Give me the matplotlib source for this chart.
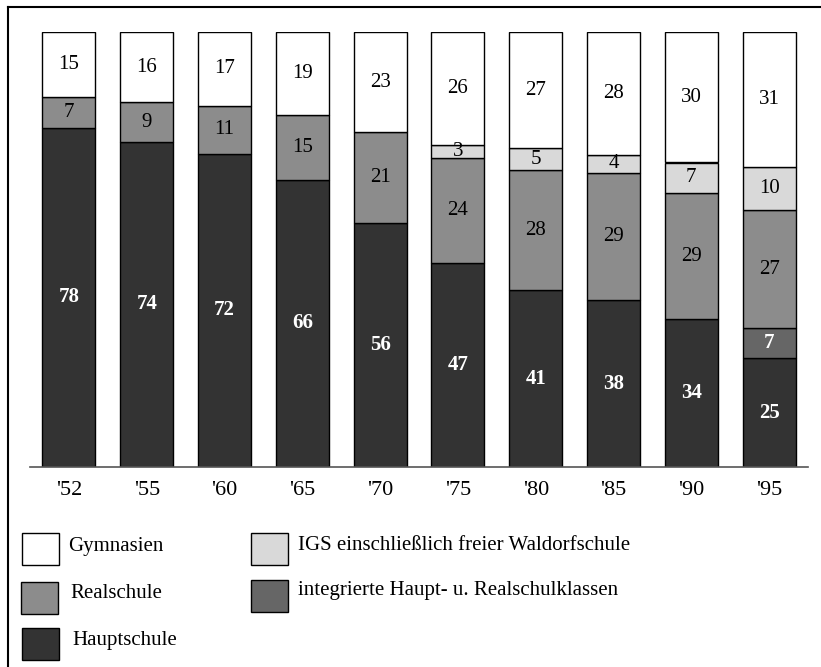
import matplotlib.pyplot as plt
from matplotlib.patches import Rectangle
import numpy as np

plt.rcParams['font.family'] = ['Liberation Serif', 'DejaVu Serif']

years = ["'52", "'55", "'60", "'65", "'70", "'75", "'80", "'85", "'90", "'95"]
hauptschule = [78, 74, 72, 66, 56, 47, 41, 38, 34, 25]
integrierte = [0, 0, 0, 0, 0, 0, 0, 0, 0, 7]
realschule = [7, 9, 11, 15, 21, 24, 28, 29, 29, 27]
igs = [0, 0, 0, 0, 0, 3, 5, 4, 7, 10]
gymnasien = [15, 16, 17, 19, 23, 26, 27, 28, 30, 31]

series = [
    ("Hauptschule", hauptschule, "#333333", "white", "bold"),
    ("integrierte Haupt- u. Realschulklassen", integrierte, "#666666", "white", "bold"),
    ("Realschule", realschule, "#8c8c8c", "black", "normal"),
    ("IGS einschließlich freier Waldorfschule", igs, "#d9d9d9", "black", "normal"),
    ("Gymnasien", gymnasien, "white", "black", "normal"),
]

# rounded shares don't always add to 100, bars are drawn as full 100 %
totals = np.sum([np.array(s[1], dtype=float) for s in series], axis=0)

W, H = 821, 667
fig = plt.figure(figsize=(W / 100, H / 100), dpi=100)

# main chart area (pixel layout)
left, right, base, top = 30, 808, 467, 32
ax = fig.add_axes([left / W, (H - base) / H, (right - left) / W, (base - top) / H])

x = np.arange(len(years))
bottom = np.zeros(len(years))
for name, vals, color, tcolor, weight in series:
    raw = np.array(vals, dtype=float)
    h = raw / totals * 100
    mask = raw > 0
    ax.bar(x[mask], h[mask], bottom=bottom[mask], width=0.68, color=color,
           edgecolor="black", linewidth=1.0)
    for xi, v, hh, b in zip(x[mask], raw[mask], h[mask], bottom[mask]):
        ax.text(xi, b + hh / 2, f"{int(v)}", ha="center", va="center",
                fontsize=15, color=tcolor, fontweight=weight)
    bottom += h

ax.set_xlim(-0.5, len(years) - 0.5)
ax.set_ylim(0, 100)
ax.set_xticks(x)
ax.set_xticklabels(years, fontsize=16)
ax.tick_params(axis="x", length=0, pad=10)
ax.set_yticks([])
for s in ["top", "left", "right"]:
    ax.spines[s].set_visible(False)
ax.spines["bottom"].set_color("#555555")
ax.spines["bottom"].set_linewidth(1.2)

# overlay for frame and legend, in pixel coordinates
ov = fig.add_axes([0, 0, 1, 1], zorder=-1)
ov.set_xlim(0, W)
ov.set_ylim(H, 0)
ov.axis("off")
ov.plot([8, 8], [7, H], color="black", lw=1.5)
ov.plot([8, W], [7, 7], color="black", lw=1.5)

legend_items = [
    ("Gymnasien", "white", 22, 533, 68, 546),
    ("Realschule", "#8c8c8c", 21, 582, 70, 593),
    ("Hauptschule", "#333333", 22, 628, 72, 640),
    ("IGS einschließlich freier Waldorfschule", "#d9d9d9", 251, 533, 298, 546),
    ("integrierte Haupt- u. Realschulklassen", "#666666", 251, 580, 298, 590),
]
for label, color, bx, by, tx, ty in legend_items:
    ov.add_patch(Rectangle((bx, by), 37, 32, facecolor=color, edgecolor="black", lw=1.0))
    ov.text(tx, ty, label, fontsize=15, va="center", ha="left")

fig.savefig("out.png", dpi=100)
